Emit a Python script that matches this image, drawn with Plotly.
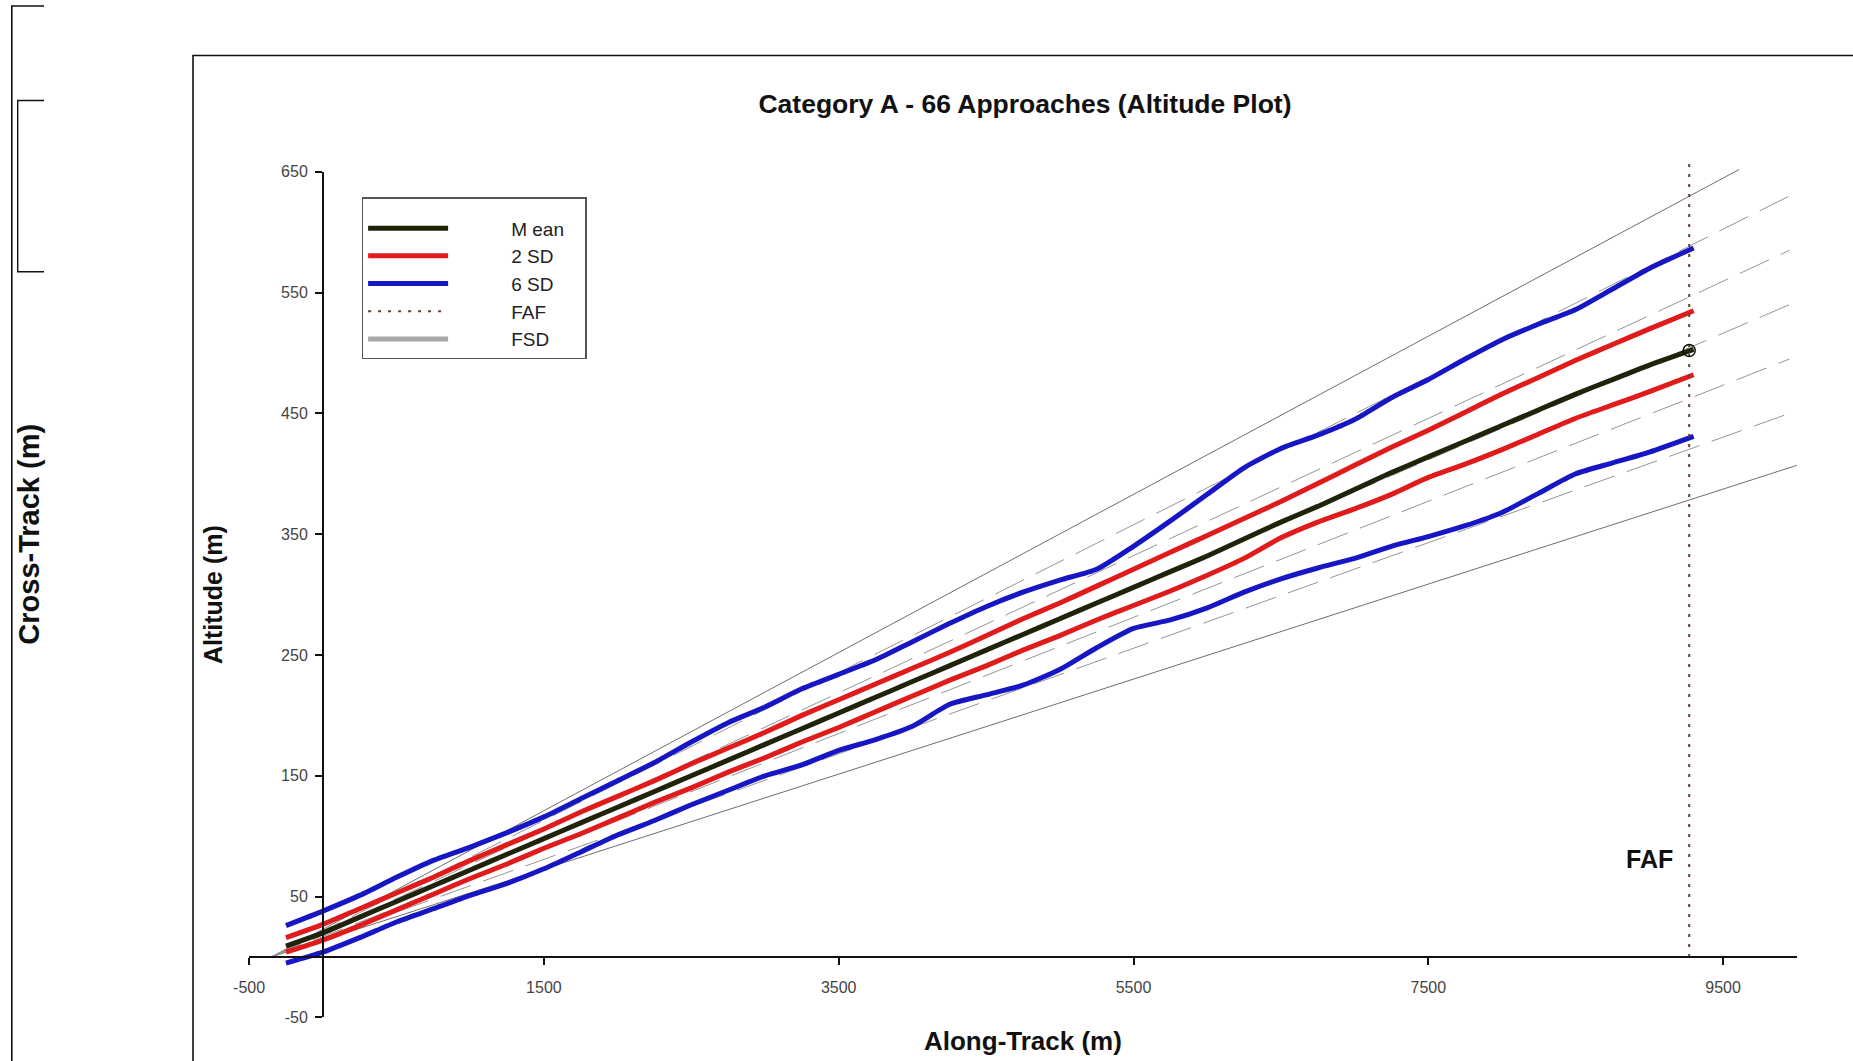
import plotly.graph_objects as go

# ---------------- data ----------------
along = [-250, 0, 250, 500, 750, 1000, 1250, 1500, 1750, 2000, 2250, 2500, 2750,
         3000, 3250, 3500, 3750, 4000, 4250, 4500, 4750, 5000, 5250, 5500, 5750,
         6000, 6250, 6500, 6750, 7000, 7250, 7500, 7750, 8000, 8250, 8500, 8750,
         9000, 9300]

mean_alt = [9, 20, 33, 46, 59, 72, 85, 98, 111, 124, 137, 150, 163, 176, 189, 202,
            215, 228, 241, 254, 267, 280, 293, 306, 319, 332, 346, 360, 373, 387,
            401, 414, 427, 440, 453, 466, 478, 490, 503]

sd2_upper = [16, 27, 40, 53, 66, 80, 93, 106, 120, 133, 146, 160, 173, 186, 200, 213,
             226, 239, 252, 266, 280, 293, 307, 321, 335, 349, 363, 377, 392, 407,
             422, 436, 451, 466, 480, 494, 507, 520, 535]

sd2_lower = [4, 14, 26, 39, 52, 65, 77, 90, 102, 115, 128, 140, 153, 165, 178, 190,
             203, 216, 229, 241, 254, 266, 279, 291, 303, 316, 330, 347, 360, 371,
             383, 397, 408, 420, 433, 446, 457, 468, 482]

sd6_upper = [26, 38, 51, 66, 80, 91, 103, 116, 131, 146, 161, 178, 194, 207, 222, 234,
             246, 261, 276, 290, 302, 312, 321, 340, 361, 383, 405, 421, 432, 445,
             463, 478, 495, 511, 524, 536, 553, 570, 587]

sd6_lower = [-5, 4, 16, 29, 40, 51, 61, 73, 87, 101, 113, 126, 138, 150, 159, 171,
             180, 191, 209, 217, 225, 238, 256, 272, 279, 289, 302, 313, 322, 330,
             340, 348, 357, 368, 384, 400, 409, 418, 431]

faf_x = 9270
faf_top = 657
faf_mean = 502

# FSD reference lines: common origin, end points
fsd_origin_x = -350
fsd_origin_y = 0
fsd_solid_end_x = [9610, 10000]
fsd_solid_end_y = [652, 407]
fsd_dash_end_x = [9950, 9950, 9950, 9950, 9950]
fsd_dash_end_y = [630, 585, 540, 495, 450]

x_ticks = [-500, 1500, 3500, 5500, 7500, 9500]
x_ticklabels = ["-500", "1500", "3500", "5500", "7500", "9500"]
y_ticks = [-50, 50, 150, 250, 350, 450, 550, 650]
y_ticklabels = ["-50", "50", "150", "250", "350", "450", "550", "650"]

title_text = "Category A - 66 Approaches (Altitude Plot)"
x_title = "Along-Track (m)"
y_title = "Altitude (m)"
left_title = "Cross-Track (m)"

# ---------------- layout geometry ----------------
W, H = 1853, 1061
FONT = "Liberation Sans, Arial, sans-serif"
px0, sx = 322.8, 0.1474     # pixel of along=0, pixels per metre
py0, sy = 957.0, 1.208      # pixel of alt=0, pixels per metre
PAD = "\u00a0"


def fx(p):
    return p / W


def fy(p):
    return 1 - p / H


def legend_name(s):
    return PAD * 11 + s + PAD * 3


x_rng = [-520, 10080]
y_rng = [-60, 672]
x_dom = [fx(px0 + sx * x_rng[0]), fx(px0 + sx * x_rng[1])]
y_dom = [fy(py0 - sy * y_rng[0]), fy(py0 - sy * y_rng[1])]

x2_rng = [-500, 10000]
y2_rng = [-50, 650]
x2_dom = [fx(px0 + sx * x2_rng[0]), fx(px0 + sx * x2_rng[1])]
y2_dom = [fy(py0 - sy * y2_rng[0]), fy(py0 - sy * y2_rng[1])]

fig = go.Figure()

# FSD lines
sx_list, sy_list = [], []
for ex, ey in zip(fsd_solid_end_x, fsd_solid_end_y):
    sx_list += [fsd_origin_x, ex, None]
    sy_list += [fsd_origin_y, ey, None]
fig.add_trace(go.Scatter(x=sx_list, y=sy_list, mode="lines",
                         line=dict(color="#6e6e6e", width=1),
                         showlegend=False, hoverinfo="skip"))
for ex, ey in zip(fsd_dash_end_x, fsd_dash_end_y):
    fig.add_trace(go.Scatter(x=[fsd_origin_x, ex], y=[fsd_origin_y, ey], mode="lines",
                             line=dict(color="#959595", width=1, dash="32px,13px"),
                             showlegend=False, hoverinfo="skip"))

BLUE = "#1616c4"
RED = "#e01b1b"
MEAN = "#1f230a"
LW = 5

fig.add_trace(go.Scatter(x=along, y=sd6_upper, mode="lines", name=legend_name("6 SD"),
                         legendgroup="sd6", legendrank=3,
                         line=dict(color=BLUE, width=LW, shape="spline", smoothing=0.6)))
fig.add_trace(go.Scatter(x=along, y=sd6_lower, mode="lines", name=legend_name("6 SD"),
                         legendgroup="sd6", showlegend=False,
                         line=dict(color=BLUE, width=LW, shape="spline", smoothing=0.6)))
fig.add_trace(go.Scatter(x=along, y=sd2_upper, mode="lines", name=legend_name("2 SD"),
                         legendgroup="sd2", legendrank=2,
                         line=dict(color=RED, width=LW, shape="spline", smoothing=0.6)))
fig.add_trace(go.Scatter(x=along, y=sd2_lower, mode="lines", name=legend_name("2 SD"),
                         legendgroup="sd2", showlegend=False,
                         line=dict(color=RED, width=LW, shape="spline", smoothing=0.6)))
fig.add_trace(go.Scatter(x=along, y=mean_alt, mode="lines", name=legend_name("M ean"),
                         legendrank=1,
                         line=dict(color=MEAN, width=LW, shape="spline", smoothing=0.6)))
fig.add_trace(go.Scatter(x=[faf_x, faf_x], y=[0, faf_top], mode="lines",
                         name=legend_name("FAF"), legendrank=4,
                         line=dict(color="#6b3f30", width=2, dash="3px,7px")))
fig.add_trace(go.Scatter(x=[faf_x], y=[faf_mean], mode="markers", showlegend=False,
                         marker=dict(symbol="circle-open", size=12, color="#111",
                                     line=dict(width=1.5))))
# FSD legend entry
fig.add_trace(go.Scatter(x=[None], y=[None], mode="lines", name=legend_name("FSD"),
                         legendrank=5, line=dict(color="#a8a8a8", width=LW)))
# carrier trace for the drawn axes
fig.add_trace(go.Scatter(x=[0], y=[0], xaxis="x2", yaxis="y2", mode="markers",
                         marker=dict(opacity=0), showlegend=False, hoverinfo="skip"))

fig.add_annotation(x=9004, y=81, text="<b>FAF</b>", showarrow=False,
                   xanchor="center", yanchor="middle",
                   font=dict(size=25, family=FONT, color="#111"))

fig.add_annotation(x=fx(29.5), y=fy(452 * 1.1818), xref="paper", yref="paper",
                   text="<b>" + left_title + "</b>", textangle=-90, showarrow=False,
                   xanchor="center", yanchor="middle",
                   font=dict(size=29, family=FONT, color="#111"))

shapes = [
    dict(type="path", xref="paper", yref="paper",
         path=f"M {fx(193)},{fy(1075)} L {fx(193)},{fy(55.5)} L {fx(1870)},{fy(55.5)}",
         line=dict(color="#111", width=1.6)),
    dict(type="path", xref="paper", yref="paper",
         path=f"M {fx(11.8)},{fy(1075)} L {fx(11.8)},{fy(6)} L {fx(44)},{fy(6)}",
         line=dict(color="#111", width=1.6)),
    dict(type="path", xref="paper", yref="paper",
         path=f"M {fx(44)},{fy(100.5)} L {fx(17.7)},{fy(100.5)} L {fx(17.7)},{fy(271.8)} L {fx(44)},{fy(271.8)}",
         line=dict(color="#111", width=1.4)),
]

tickfont = dict(size=16, family=FONT, color="#444")

fig.update_layout(
    width=W, height=H,
    margin=dict(l=0, r=0, t=0, b=0, autoexpand=False),
    paper_bgcolor="white", plot_bgcolor="rgba(0,0,0,0)",
    font=dict(family=FONT, color="#111"),
    title=dict(text="<b>" + title_text + "</b>", x=fx(1025), y=fy(104),
               xref="paper", yref="paper", xanchor="center", yanchor="middle",
               font=dict(size=26.5, family=FONT, color="#111")),
    xaxis=dict(domain=x_dom, range=x_rng, visible=False, fixedrange=True,
               automargin=False),
    yaxis=dict(domain=y_dom, range=y_rng, visible=False, fixedrange=True,
               automargin=False),
    xaxis2=dict(domain=x2_dom, range=x2_rng, anchor="free", position=fy(py0),
                automargin=False,
                showline=True, linecolor="#111", linewidth=1.6,
                ticks="outside", ticklen=7, tickwidth=1.5, tickcolor="#111",
                tickvals=x_ticks, ticktext=x_ticklabels, tickfont=tickfont,
                ticklabelstandoff=9,
                showgrid=False, zeroline=False, fixedrange=True,
                title=dict(text="<b>" + x_title + "</b>", standoff=36,
                           font=dict(size=26, family=FONT, color="#111"))),
    yaxis2=dict(domain=y2_dom, range=y2_rng, anchor="free", position=fx(px0),
                automargin=False,
                showline=True, linecolor="#111", linewidth=1.6,
                ticks="outside", ticklen=7, tickwidth=1.5, tickcolor="#111",
                tickvals=y_ticks, ticktext=y_ticklabels, tickfont=tickfont,
                ticklabelstandoff=4,
                showgrid=False, zeroline=False, fixedrange=True,
                title=dict(text="<b>" + y_title + "</b>", standoff=50,
                           font=dict(size=25, family=FONT, color="#111"))),
    legend=dict(x=fx(361.6), y=fy(197.4), xanchor="left", yanchor="top",
                bgcolor="white", bordercolor="#555", borderwidth=1.5,
                font=dict(size=19, family=FONT, color="#222"),
                title=dict(text=PAD, font=dict(size=8)),
                itemwidth=80, traceorder="normal", tracegroupgap=0),
    shapes=shapes,
    showlegend=True,
)

fig.write_html("out.html")
